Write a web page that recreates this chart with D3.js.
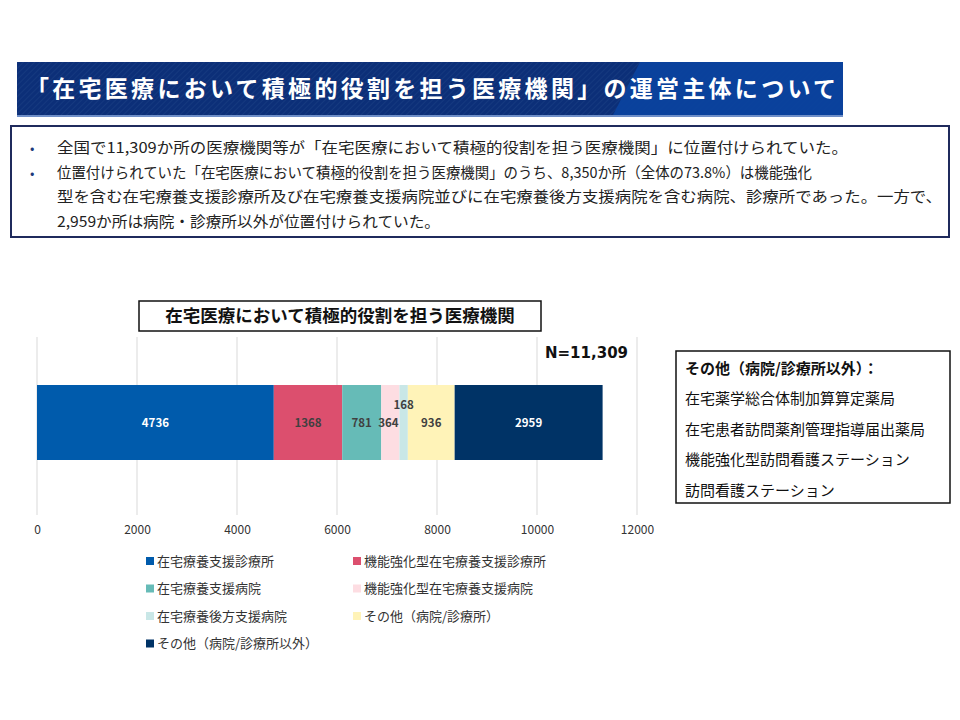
<!DOCTYPE html>
<html>
<head>
<meta charset="utf-8">
<script src="https://cdn.jsdelivr.net/npm/d3@7"></script>
<style>
  body { margin: 0; background: #fff; }
  svg { display: block; font-family: "Noto Sans CJK JP", "Noto Sans", sans-serif; }
</style>
</head>
<body>
<svg id="chart" width="960" height="720"></svg>
<script>
// data
const categories = [
  "在宅療養支援診療所",
  "機能強化型在宅療養支援診療所",
  "在宅療養支援病院",
  "機能強化型在宅療養支援病院",
  "在宅療養後方支援病院",
  "その他（病院/診療所）",
  "その他（病院/診療所以外）"
];
const values = [4736, 1368, 781, 364, 168, 936, 2959];
const colors = ["#005bac", "#dc4f6e", "#66bbb7", "#fddde2", "#c9e7e7", "#fff3b8", "#003366"];
const labelColors = ["#fff", "#404040", "#404040", "#404040", "#404040", "#404040", "#fff"];
const xTicks = [0, 2000, 4000, 6000, 8000, 10000, 12000];
const total = 11309;

const headerText = "「在宅医療において積極的役割を担う医療機関」の運営主体について";
const bullets = [
  ["全国で11,309か所の医療機関等が「在宅医療において積極的役割を担う医療機関」に位置付けられていた。"],
  ["位置付けられていた「在宅医療において積極的役割を担う医療機関」のうち、8,350か所（全体の73.8%）は機能強化",
   "型を含む在宅療養支援診療所及び在宅療養支援病院並びに在宅療養後方支援病院を含む病院、診療所であった。一方で、",
   "2,959か所は病院・診療所以外が位置付けられていた。"]
];
const lineWidths = [791, 755, 885, 383];
const otherTitle = "その他（病院/診療所以外）：";
const otherItems = ["在宅薬学総合体制加算算定薬局", "在宅患者訪問薬剤管理指導届出薬局", "機能強化型訪問看護ステーション", "訪問看護ステーション"];

const svg = d3.select("#chart");

// header banner
const defs = svg.append("defs");
const pat = defs.append("pattern").attr("id", "stripe").attr("width", 4).attr("height", 4)
  .attr("patternUnits", "userSpaceOnUse").attr("patternTransform", "rotate(45)");
pat.append("rect").attr("width", 4).attr("height", 4).attr("fill", "#0c2f78");
pat.append("rect").attr("width", 1).attr("height", 4).attr("fill", "#15397f");

svg.append("rect").attr("x", 17).attr("y", 62).attr("width", 826).attr("height", 55).attr("fill", "url(#stripe)");
svg.append("path").attr("d", "M640,62 L843,62 L843,117 L612,117 Z").attr("fill", "#0a44a0").attr("opacity", 0.9);
svg.append("rect").attr("x", 17).attr("y", 115).attr("width", 826).attr("height", 2).attr("fill", "#6f8fc8");
svg.append("text").attr("x", 26).attr("y", 97).attr("fill", "#fff").attr("font-size", 23)
  .attr("font-weight", "bold").attr("textLength", 810).attr("lengthAdjust", "spacing").text(headerText);

// summary box
svg.append("rect").attr("x", 11).attr("y", 126).attr("width", 938).attr("height", 111)
  .attr("fill", "#fff").attr("stroke", "#1f2a5c").attr("stroke-width", 2);
let ly = 153, li = 0;
bullets.forEach(lines => {
  svg.append("text").attr("x", 30).attr("y", ly).attr("font-size", 13).attr("fill", "#1f3a7a").text("•");
  lines.forEach(t => {
    svg.append("text").attr("x", 57).attr("y", ly).attr("font-size", 15).attr("fill", "#222")
      .attr("textLength", lineWidths[li++]).attr("lengthAdjust", "spacingAndGlyphs").text(t);
    ly += 24.5;
  });
});

// chart
const x = d3.scaleLinear().domain([0, 12000]).range([37, 637]);
const plotTop = 337, plotBottom = 515;
const barY = 385, barH = 75;

svg.append("g").selectAll("line").data(xTicks).join("line")
  .attr("x1", d => x(d)).attr("x2", d => x(d))
  .attr("y1", plotTop).attr("y2", plotBottom)
  .attr("stroke", "#d9d9d9").attr("stroke-width", 1);

const axis = svg.append("g").attr("transform", `translate(0,${plotBottom})`)
  .call(d3.axisBottom(x).tickValues(xTicks).tickFormat(d3.format("d")).tickSize(0).tickPadding(10));
axis.select(".domain").remove();
axis.selectAll("text").attr("font-size", 12).attr("fill", "#333")
  .attr("font-family", "Noto Sans CJK JP, sans-serif");

const starts = d3.cumsum([0].concat(values)).slice(0, values.length);
const segs = values.map((v, i) => ({ v, i, s: starts[i] }));

svg.append("g").selectAll("rect").data(segs).join("rect")
  .attr("x", d => x(d.s)).attr("y", barY)
  .attr("width", d => x(d.s + d.v) - x(d.s)).attr("height", barH)
  .attr("fill", d => colors[d.i]);

svg.append("g").selectAll("text").data(segs).join("text")
  .attr("x", d => x(d.s + d.v / 2) + (d.i === 3 ? -2 : 0))
  .attr("y", d => d.i === 4 ? barY + 24 : barY + 42)
  .attr("text-anchor", "middle").attr("font-size", 11.5).attr("font-weight", "bold")
  .attr("fill", d => labelColors[d.i]).text(d => d.v);

// chart title box
svg.append("rect").attr("x", 139).attr("y", 301).attr("width", 402).attr("height", 30)
  .attr("fill", "#fff").attr("stroke", "#111").attr("stroke-width", 1.5);
svg.append("text").attr("x", 340).attr("y", 322).attr("text-anchor", "middle")
  .attr("font-size", 17.5).attr("font-weight", "bold").attr("fill", "#111")
  .text("在宅医療において積極的役割を担う医療機関");

svg.append("text").attr("x", 545).attr("y", 358).attr("font-size", 15).attr("font-weight", "bold")
  .attr("font-family", "DejaVu Sans, sans-serif")
  .attr("fill", "#111").text("N=" + d3.format(",")(total));

// legend
const leg = svg.append("g").selectAll("g").data(categories).join("g")
  .attr("transform", (d, i) => `translate(${i % 2 === 0 ? 146 : 353},${561 + Math.floor(i / 2) * 27.5})`);
leg.append("rect").attr("x", 0).attr("y", -4).attr("width", 8).attr("height", 8).attr("fill", (d, i) => colors[i]);
leg.append("text").attr("x", 11).attr("y", 4.5).attr("font-size", 13).attr("fill", "#333").text(d => d);

// right note box
svg.append("rect").attr("x", 676).attr("y", 351).attr("width", 274).attr("height", 152)
  .attr("fill", "#fff").attr("stroke", "#111").attr("stroke-width", 1.5);
svg.append("text").attr("x", 685).attr("y", 374).attr("font-size", 15).attr("font-weight", "bold")
  .attr("fill", "#111").text(otherTitle);
otherItems.forEach((t, i) => {
  svg.append("text").attr("x", 685).attr("y", 404 + i * 30.5).attr("font-size", 15)
    .attr("fill", "#111").text(t);
});
</script>
</body>
</html>
